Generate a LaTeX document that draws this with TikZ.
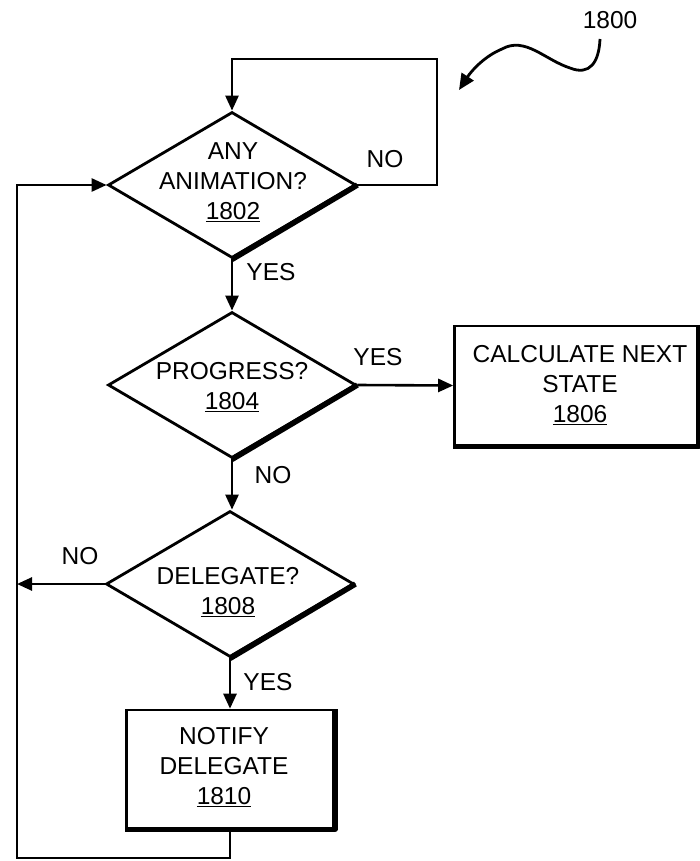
\documentclass[tikz,border=0pt]{standalone}
\usepackage{fontspec}
\setmainfont{Liberation Sans}
\usetikzlibrary{shapes.geometric,arrows.meta}
\begin{document}
\begin{tikzpicture}[x=1pt,y=-1pt,line width=2.6pt,
  dec/.style={diamond,draw,line width=2.8pt,inner sep=0pt,minimum width=248pt,minimum height=146pt},
  txt/.style={font=\fontsize{24.5}{30}\selectfont,align=center,inner sep=0pt},
  lbl/.style={font=\fontsize{24.5}{30}\selectfont,inner sep=0pt},
  stepbox/.style={rectangle,draw,line width=2.6pt,inner sep=0pt},
  arr/.style={-{Triangle[length=15pt,width=13pt]},line width=2.6pt},
  shadowline/.style={line width=5.5pt,line join=round}]
\useasboundingbox (0,0) rectangle (700,861);

% decisions
\node[dec] (d1) at (232,185) {};
\node[txt] (t1) at (233,182) {ANY\\ANIMATION?\\\underline{1802}};
\node[dec] (d2) at (232,385) {};
\node[txt] (t2) at (232,387) {PROGRESS?\\\underline{1804}};
\node[dec] (d3) at (230,584) {};
\node[txt] (t3) at (228,592) {DELEGATE?\\\underline{1808}};

% boxes
\node[stepbox,minimum width=243pt,minimum height=119pt] (b1) at (576,385.5) {};
\node[txt] (tb1) at (580,385) {CALCULATE NEXT\\STATE\\\underline{1806}};
\node[stepbox,minimum width=207pt,minimum height=118pt] (b2) at (230,769) {};
\node[txt] (tb2) at (224,767) {NOTIFY\\DELEGATE\\\underline{1810}};

% shadows
\draw[shadowline,shift={(1.2,1.2)}] (d1.east) -- (d1.south);
\draw[shadowline,shift={(1.2,1.2)}] (d2.east) -- (d2.south);
\draw[shadowline,shift={(1.2,1.2)}] (d3.east) -- (d3.south);
\draw[shadowline,shift={(1,1)}] (b1.south west) -- (b1.south east) -- (b1.north east);
\draw[shadowline,shift={(1,1)}] (b2.south west) -- (b2.south east) -- (b2.north east);

% labels
\node[lbl] (no1) at (385,159) {NO};
\node[lbl] (yes1) at (271,272) {YES};
\node[lbl] (yes2) at (378,357) {YES};
\node[lbl] (no2) at (273,475) {NO};
\node[lbl] (no3) at (80,556) {NO};
\node[lbl] (yes3) at (268,682) {YES};
\node[lbl] (ref) at (610,20) {1800};

% connectors
\coordinate (c1) at (437,59);
\coordinate (lb) at (17,858);
\draw[arr] (d1.east) -| (c1) -| (d1.north);
\draw[arr] (d1.south) -- (d2.north);
\draw[arr] (d2.east) -- (b1.west);
\draw[arr] (d2.south) -- (d2.south |- d3.north);
\draw[arr] (d3.west) -- (d3.west -| lb);
\draw[arr] (d3.south) -- (b2.north);
\draw[arr] (b2.south) |- (lb) |- (d1.west);

% reference squiggle
\coordinate (s0) at (600,39);
\coordinate (s1) at (570,68);
\coordinate (s2) at (502,49);
\coordinate (s3) at (459,90);
\draw[-{Triangle[length=16pt,width=14pt]},line width=2.8pt]
  (s0) .. controls (599,62) and (590,76) .. (s1)
       .. controls (545,60) and (525,36) .. (s2)
       .. controls (485,56) and (472,70) .. (s3);
\end{tikzpicture}
\end{document}
